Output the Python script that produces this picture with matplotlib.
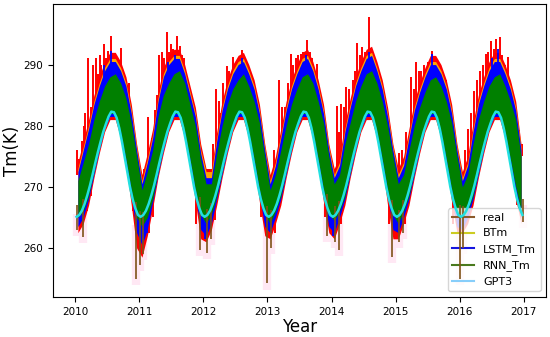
import numpy as np
import matplotlib.pyplot as plt
from matplotlib.lines import Line2D

years = list(range(2010, 2017))

# monthly upper / lower envelope of each daily series (K), Jan..Dec per row
real_hi = [274, 277.5, 281, 285, 288, 290.5, 292, 292, 290.5, 288, 283.5, 277,
           272, 275.5, 279.5, 285.5, 289.5, 291.5, 292.5, 292.5, 290, 286.5, 283, 277,
           273, 273, 279, 284, 287.5, 290, 291.5, 292, 290, 287.5, 283.5, 277,
           272, 275, 279.5, 284, 287.5, 290, 292, 292.5, 290.5, 287.5, 283.5, 277,
           273, 275, 280.5, 284.5, 288, 290.5, 292.5, 293, 290.5, 287.5, 283, 277,
           273, 275, 279.5, 284, 287, 289.5, 291.5, 291.5, 290, 287.5, 283.5, 277,
           272.5, 275, 280.5, 285, 288, 290.5, 292, 292, 290, 287.5, 284, 277]
real_lo = [262.5, 264, 267, 271.5, 275.5, 279, 281, 281, 278, 273.5, 267, 260,
           258.5, 262, 266.5, 271.5, 275.5, 279, 281, 281, 278, 273.5, 267.5, 261.5,
           261, 263, 267, 271.5, 275.5, 279, 281, 281, 278, 273.5, 267.5, 262,
           261.5, 264, 267, 271.5, 275.5, 279, 281, 281, 278, 273.5, 267.5, 262.5,
           261.5, 264, 267, 271.5, 275.5, 279, 281, 281, 278, 273.5, 267, 261.5,
           261.5, 264, 267, 271.5, 275.5, 279, 281, 281, 278, 273.5, 267.5, 262.5,
           262.5, 264, 267, 271.5, 275.5, 279, 281, 281, 278, 273.5, 268, 264]
btm_hi = [273, 276.5, 280, 284, 287, 289.5, 291, 291, 289.5, 287, 282.5, 276.5,
          271, 274.5, 278.5, 284.5, 288.5, 290.5, 291.5, 291.5, 289, 285.5, 282, 276,
          272.5, 272.5, 278, 283, 286.5, 289, 290.5, 291, 289, 286.5, 282.5, 276.5,
          271, 274, 278.5, 283, 286.5, 289, 291, 291.5, 289.5, 286.5, 282.5, 276.5,
          272, 274, 279.5, 283.5, 287, 289.5, 291.5, 292, 289.5, 286.5, 282, 276.5,
          272, 274, 278.5, 283, 286, 288.5, 290.5, 290.5, 289, 286.5, 282.5, 276.5,
          271.5, 274, 279.5, 284, 287, 289.5, 291, 291, 289, 286.5, 283, 276.5]
btm_lo = [264, 265.5, 268.5, 272, 276, 279.5, 281.5, 281.5, 278.5, 274, 269, 263,
          261, 263.5, 268, 272, 276, 279.5, 281.5, 281.5, 278.5, 274, 269, 263.5,
          262.5, 264.5, 268.5, 272, 276, 279.5, 281.5, 281.5, 278.5, 274, 269, 264,
          263, 265.5, 268.5, 272, 276, 279.5, 281.5, 281.5, 278.5, 274, 269, 264,
          263, 265.5, 268.5, 272, 276, 279.5, 281.5, 281.5, 278.5, 274, 269, 263.5,
          263, 265.5, 268.5, 272, 276, 279.5, 281.5, 281.5, 278.5, 274, 269, 264,
          263.5, 265.5, 268.5, 272, 276, 279.5, 281.5, 281.5, 278.5, 274, 269.5, 265.5]
lstm_hi = [272.5, 276, 279.5, 283.5, 286.5, 289, 290.5, 290.5, 289, 286.5, 282, 276,
           270.5, 274, 278, 284, 288, 290, 291, 291, 288.5, 285, 281.5, 275.5,
           271.5, 271.5, 277.5, 282.5, 286, 288.5, 290, 290.5, 288.5, 286, 282, 276,
           270.5, 273.5, 278, 282.5, 286, 288.5, 290.5, 291, 289, 286, 282, 276,
           271.5, 273.5, 279, 283, 286.5, 289, 291, 291.5, 289, 286, 281.5, 276,
           271.5, 273.5, 278, 282.5, 285.5, 288, 290, 290, 288.5, 286, 282, 276,
           271, 273.5, 279, 283.5, 286.5, 289, 290.5, 290.5, 288.5, 286, 282.5, 276]
lstm_lo = [263.5, 265, 268, 272, 276, 279.5, 281.5, 281.5, 278.5, 274, 268.5, 262.5,
           260.5, 263, 267.5, 272, 276, 279.5, 281.5, 281.5, 278.5, 274, 268.5, 263,
           262, 264, 268, 272, 276, 279.5, 281.5, 281.5, 278.5, 274, 268.5, 263.5,
           262.5, 265, 268, 272, 276, 279.5, 281.5, 281.5, 278.5, 274, 268.5, 263.5,
           262.5, 265, 268, 272, 276, 279.5, 281.5, 281.5, 278.5, 274, 268.5, 263,
           262.5, 265, 268, 272, 276, 279.5, 281.5, 281.5, 278.5, 274, 268.5, 263.5,
           263, 265, 268, 272, 276, 279.5, 281.5, 281.5, 278.5, 274, 269, 265]
rnn_hi = [271, 274, 277, 281, 284, 286.5, 288, 288.5, 287, 284.5, 280.5, 275,
          269.5, 272.5, 276, 281.5, 285, 287, 288.5, 289, 287, 283.5, 280, 274.5,
          270.5, 270.5, 275.5, 280, 283.5, 286, 287.5, 288.5, 286.5, 284, 280.5, 275,
          269.5, 272, 276, 280, 283.5, 286, 288, 288.5, 287, 284, 280.5, 275,
          270.5, 272, 277, 280.5, 284, 286.5, 288.5, 289, 287, 284, 280, 275,
          270.5, 272, 276, 280, 283, 285.5, 287.5, 288, 286.5, 284, 280.5, 275,
          270, 272, 277, 281, 284, 286.5, 288, 288.5, 286.5, 284, 281, 275]
rnn_lo = [265, 266, 268.5, 272.5, 276.5, 280, 282, 282, 279, 274.5, 269.5, 265,
          263.5, 265, 268, 272.5, 276.5, 280, 282, 282, 279, 274.5, 269.5, 265.5,
          264, 265.5, 268.5, 272.5, 276.5, 280, 282, 282, 279, 274.5, 269.5, 265.5,
          264, 266, 268.5, 272.5, 276.5, 280, 282, 282, 279, 274.5, 269.5, 265.5,
          264.5, 266, 268.5, 272.5, 276.5, 280, 282, 282, 279, 274.5, 269.5, 265.5,
          264, 266, 268.5, 272.5, 276.5, 280, 282, 282, 279, 274.5, 269.5, 265.5,
          264.5, 266, 268.5, 272.5, 276.5, 280, 282, 282, 279, 274.5, 270, 266]

# hottest single days of the real series
spike_t = [2010.03, 2010.06, 2010.10, 2010.13, 2010.15, 2010.20, 2010.24, 2010.28,
           2010.32, 2010.35, 2010.38, 2010.41, 2010.45, 2010.48, 2010.51, 2010.56,
           2010.62, 2010.67, 2010.71, 2010.75, 2010.80, 2010.84, 2010.87, 2010.92,
           2011.08, 2011.14, 2011.20, 2011.25, 2011.28, 2011.31, 2011.35, 2011.38,
           2011.43, 2011.47, 2011.50, 2011.53, 2011.59, 2011.64, 2011.67, 2011.70,
           2011.74, 2011.78, 2011.82, 2011.85, 2011.90,
           2012.15, 2012.20, 2012.24, 2012.27, 2012.31, 2012.37, 2012.40, 2012.44,
           2012.47, 2012.52, 2012.56, 2012.60, 2012.64, 2012.68, 2012.72, 2012.76,
           2012.83, 2012.88, 2012.92,
           2013.10, 2013.18, 2013.22, 2013.28, 2013.32, 2013.36, 2013.40, 2013.45,
           2013.48, 2013.52, 2013.56, 2013.62, 2013.66, 2013.70, 2013.74, 2013.78,
           2013.82, 2013.86, 2013.90,
           2014.09, 2014.12, 2014.15, 2014.19, 2014.22, 2014.28, 2014.33, 2014.37,
           2014.40, 2014.44, 2014.48, 2014.53, 2014.59, 2014.62, 2014.65, 2014.69,
           2014.72, 2014.76, 2014.80, 2014.84, 2014.87, 2014.91,
           2015.05, 2015.10, 2015.17, 2015.24, 2015.28, 2015.32, 2015.36, 2015.40,
           2015.44, 2015.50, 2015.53, 2015.57, 2015.61, 2015.65, 2015.68, 2015.71,
           2015.75, 2015.79, 2015.83, 2015.88, 2015.92,
           2016.09, 2016.13, 2016.17, 2016.23, 2016.27, 2016.32, 2016.36, 2016.41,
           2016.45, 2016.49, 2016.53, 2016.57, 2016.63, 2016.66, 2016.70, 2016.74,
           2016.76, 2016.80, 2016.84, 2016.88, 2016.93, 2016.97]
spike_top = [276, 274.5, 277.5, 280, 282, 291.1, 283, 290,
             291, 288.5, 291.6, 290, 293.4, 291, 292.3, 294.6,
             291.7, 290.5, 292.7, 289, 286.3, 287, 283, 279.5,
             273, 281.4, 278, 282.5, 285, 291.5, 292, 291,
             295.4, 292, 293.4, 292.5, 294.7, 293.1, 291.5, 291,
             288, 286, 284, 283, 277,
             277, 286, 284, 282, 287, 289.8, 289, 288.5,
             291.2, 290.5, 291.2, 292.4, 290.5, 290, 288.5, 286,
             284.5, 281.7, 278,
             276, 287.4, 283, 283, 287, 291.7, 290, 291,
             291.5, 291.8, 292, 294, 292, 291, 289, 290.1,
             285, 283, 279,
             283.3, 279, 283.5, 283, 286.3, 286, 287.5, 289,
             293.6, 291.5, 292.8, 292, 297.8, 291.5, 290.7, 289,
             286, 286, 283.3, 284, 283, 278,
             275.5, 276, 279, 287.9, 286, 290.4, 289, 289,
             290, 290.5, 290, 292.3, 290.5, 289.5, 289, 287.9,
             288, 287.4, 285, 277, 278,
             276, 279.5, 282, 285.6, 287.5, 289, 290, 291.7,
             292, 293.8, 292.5, 294.2, 294.5, 291.5, 290, 288.5,
             291.2, 285, 283, 282, 279.3, 277]
# coolest days of the real series on the flanks
cool_t = [2010.18, 2010.25, 2010.85, 2010.90, 2011.15, 2011.22, 2011.88, 2012.18,
          2012.90, 2013.12, 2013.90, 2014.15, 2014.90, 2015.15, 2015.90, 2016.14,
          2016.90]
cool_bottom = [266, 268.5, 270, 266, 262.5, 265, 264, 264.5,
               265, 262.5, 265, 264, 264, 264, 264, 265, 267]
# LSTM single-day extremes (up and down)
lstm_spike_t = [2010.45, 2010.56, 2011.45, 2011.55, 2012.60, 2013.60, 2014.58,
                2015.57, 2016.50, 2016.60]
lstm_spike_top = [290, 292.2, 290.5, 291.5, 291, 291.5, 292, 291.8, 291, 292.6]
lstm_dip_t = [2011.05, 2011.12, 2012.03, 2013.05, 2014.03, 2015.00]
lstm_dip_bottom = [261.5, 262.5, 261.5, 262.5, 262, 263]
# lowest days of the real series
dip_t = [2010.02, 2010.12, 2010.95, 2011.01, 2011.06, 2011.94, 2012.06, 2012.12,
         2012.99, 2013.05, 2013.93, 2014.06, 2014.11, 2014.95, 2015.05, 2015.12,
         2016.00, 2016.06, 2016.99]
dip_bottom = [262.9, 261.8, 255.0, 257.2, 259, 259.7, 259.2, 261.5,
              254.2, 260, 262, 261, 259.7, 258.6, 261, 262.5,
              255, 260, 264.3]

# GPT3 climatology, half-monthly values, same every year
gpt3_year = [265.1, 265.4, 266.1, 267.2, 268.6, 270.2, 272.0, 273.9, 275.7, 277.4,
             279.0, 280.3, 281.5, 282.3, 282.2, 281.3, 279.6, 277.4, 274.9, 272.3,
             270.0, 268.0, 266.5, 265.4]
gpt3 = gpt3_year * len(years)

months = years[0] + (np.arange(len(real_hi)) + 0.5) / 12
halfm = years[0] + (np.arange(len(gpt3)) + 0.5) / 24

fig, ax = plt.subplots(figsize=(5.5, 3.37), dpi=100)
fig.subplots_adjust(left=0.096, right=0.993, bottom=0.119, top=0.988)

# faint halo round the lowest days
ax.vlines(dip_t, np.array(dip_bottom) - 1, np.interp(dip_t, months, real_lo) + 3,
          color='#ffe8f4', lw=6, zorder=1)

ax.fill_between(months, real_lo, real_hi, color='red', lw=0, zorder=2)
ax.vlines(spike_t, np.interp(spike_t, months, real_hi) - 2, spike_top,
          color='red', lw=1.4, zorder=2)
ax.vlines(cool_t, cool_bottom, np.interp(cool_t, months, real_lo) + 2,
          color='red', lw=1.4, zorder=2)
ax.fill_between(months, btm_lo, btm_hi, color='orange', lw=0, zorder=3)
ax.fill_between(months, lstm_lo, lstm_hi, color='blue', lw=0, zorder=4)
ax.vlines(lstm_spike_t, np.interp(lstm_spike_t, months, lstm_hi) - 2, lstm_spike_top,
          color='blue', lw=1.3, zorder=4)
ax.vlines(lstm_dip_t, lstm_dip_bottom, np.interp(lstm_dip_t, months, lstm_lo) + 2,
          color='blue', lw=1.3, zorder=4)
ax.fill_between(months, rnn_lo, rnn_hi, color='green', lw=0, zorder=5)
ax.vlines(dip_t, dip_bottom, np.interp(dip_t, months, rnn_lo) + 2,
          color='#7f5217', lw=1.2, zorder=6)
ax.plot(halfm, gpt3, color='#22e0e0', lw=1.8, zorder=7)

ax.set_xlim(2009.65, 2017.35)
ax.set_ylim(252, 299.9)
ax.set_yticks([260, 270, 280, 290])
ax.tick_params(labelsize=7.5)
ax.set_xlabel('Year', fontsize=12, labelpad=1)
ax.set_ylabel('Tm(K)', fontsize=12, labelpad=2)

handles = [Line2D([], [], color='#8b5a2b', lw=1.5),
           Line2D([], [], color='#cccc22', lw=1.5),
           Line2D([], [], color='#1515e0', lw=1.5),
           Line2D([], [], color='#4a7a1e', lw=1.5),
           Line2D([], [], color='#87cefa', lw=1.5)]
ax.legend(handles, ['real', 'BTm', 'LSTM_Tm', 'RNN_Tm', 'GPT3'],
          loc='lower right', fontsize=8, framealpha=0.8)

fig.savefig('out.png')
